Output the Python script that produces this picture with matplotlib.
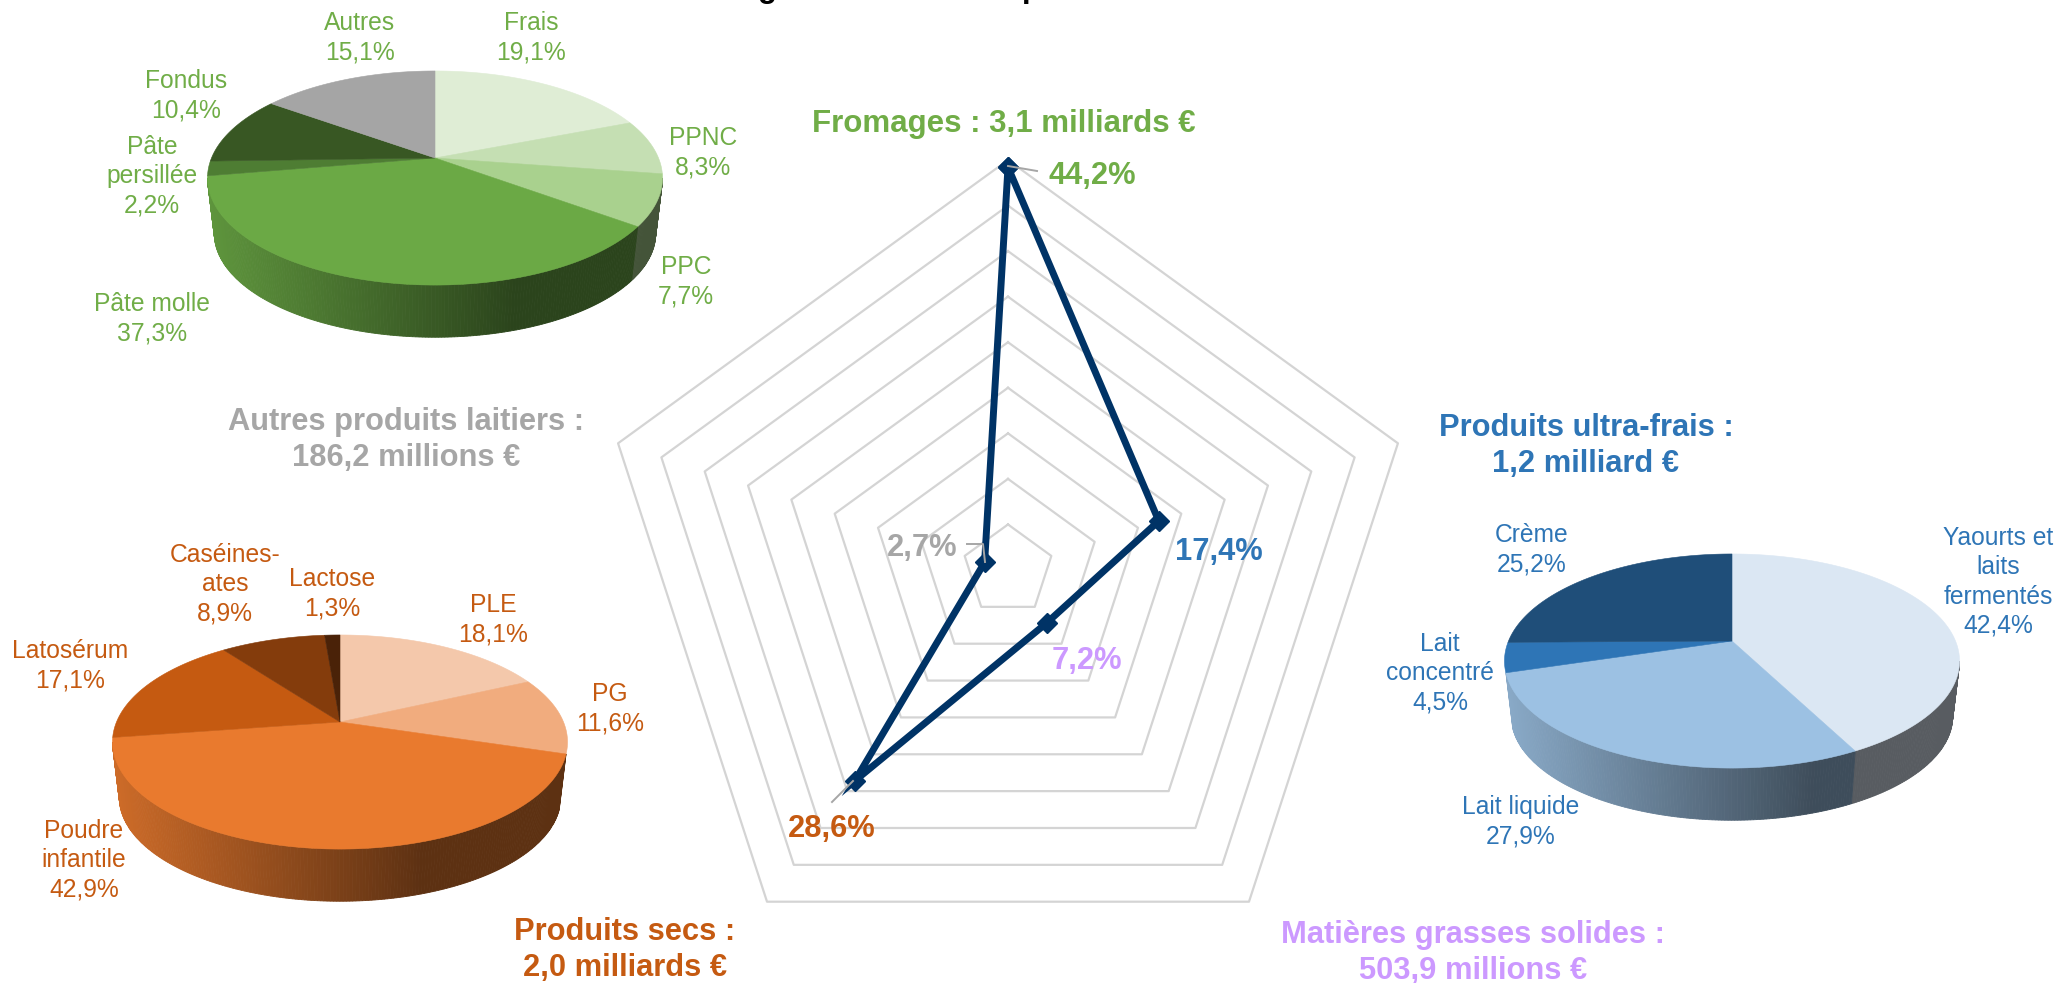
import numpy as np
import matplotlib.pyplot as plt

W = 2060
H = 983

# radar
radar_names = ['Fromages', 'Produits ultra-frais', 'Matières grasses solides', 'Produits secs', 'Autres produits laitiers']
radar_shares = [44.2, 17.4, 7.2, 28.6, 2.7]
radar_rings = [5, 10, 15, 20, 25, 30, 35, 40, 45]
radar_labels = ['44,2%', '17,4%', '7,2%', '28,6%', '2,7%']
radar_titles = ['Fromages : 3,1 milliards €', 'Produits ultra-frais :\n1,2 milliard €',
                'Matières grasses solides :\n503,9 millions €', 'Produits secs :\n2,0 milliards €',
                'Autres produits laitiers :\n186,2 millions €']

# pies, clockwise from the top
cheese_labels = ['Frais', 'PPNC', 'PPC', 'Pâte molle', 'Pâte\npersillée', 'Fondus', 'Autres']
cheese_values = [19.1, 8.3, 7.7, 37.3, 2.2, 10.4, 15.1]
cheese_text = ['19,1%', '8,3%', '7,7%', '37,3%', '2,2%', '10,4%', '15,1%']
cheese_colors = ['#DFEDD5', '#C5DFB3', '#A9D18E', '#6BA945', '#4E7D33', '#385723', '#A5A5A5']

dry_labels = ['PLE', 'PG', 'Poudre\ninfantile', 'Latosérum', 'Caséines-\nates', 'Lactose']
dry_values = [18.1, 11.6, 42.9, 17.1, 8.9, 1.3]
dry_text = ['18,1%', '11,6%', '42,9%', '17,1%', '8,9%', '1,3%']
dry_colors = ['#F4C8AB', '#F1AC7E', '#E97A2E', '#C55A11', '#843C0C', '#4A2208']

fresh_labels = ['Yaourts et\nlaits\nfermentés', 'Lait liquide', 'Lait\nconcentré', 'Crème']
fresh_values = [42.4, 27.9, 4.5, 25.2]
fresh_text = ['42,4%', '27,9%', '4,5%', '25,2%']
fresh_colors = ['#DBE7F3', '#9CC1E3', '#2E75B6', '#1F4E79']

GREEN = '#70AD47'
BLUE = '#2E75B6'
ORANGE = '#C55A11'
GREY = '#A6A6A6'
PURPLE = '#CC99FF'
NAVY = '#003366'

plt.rcParams['font.family'] = ['Liberation Sans', 'DejaVu Sans']


def put(x, y, s, color, size=17.7, bold=False, spacing=1.28):
    fig.text(x/W, 1-y/H, s, color=color, fontsize=size, ha='center', va='center',
             multialignment='center', linespacing=spacing, fontweight='bold' if bold else 'normal')


def project(t, scale=1.0):
    # circle seen in perspective, the centre sits above the middle of the ellipse
    k = 0.187
    d = 1 + k*np.cos(t)
    return scale*223.5*np.sin(t)/d, scale*103.3*np.cos(t)/d


def draw_pie(cx, cy, values, colors):
    ax = fig.add_axes([(cx-240)/W, 1-(cy+190)/H, 480/W, 290/H])
    ax.set_xlim(-240, 240)
    ax.set_ylim(-190, 100)
    ax.axis('off')
    ends = np.cumsum(values)/np.sum(values)*2*np.pi
    starts = np.r_[0, ends[:-1]]
    # side wall, strips shaded from left to right
    for a, b, c in zip(starts, ends, colors):
        base = np.array(plt.matplotlib.colors.to_rgb(c))
        lo = max(a, np.pi/2+0.188)
        hi = min(b, 3*np.pi/2-0.188)
        # a sliver at the widest point does not show
        if hi-lo < 0.12:
            continue
        n = max(int((hi-lo)/0.012), 1)
        ts = np.linspace(lo, hi, n+1)
        for t0, t1 in zip(ts[:-1], ts[1:]):
            x0, y0 = project(t0)
            x1, y1 = project(t1)
            x2, y2 = project(t1, 0.97)
            x3, y3 = project(t0, 0.97)
            pos = ((x0+x1)/2+228)/456
            f = np.interp(pos, [0, 0.68, 1], [0.88, 0.40, 0.40])
            col = base*f
            ax.fill([x0, x1, x2, x3], [y0, y1, y2-56, y3-56], color=col, lw=0.6, zorder=2)
    # top face
    for a, b, c in zip(starts, ends, colors):
        ts = np.linspace(a, b, max(int((b-a)/0.01), 2))
        x, y = project(ts)
        ax.fill(np.r_[0, x], np.r_[0, y], color=c, lw=0.4, zorder=3)


fig = plt.figure(figsize=(W/100, H/100), dpi=100)

# radar, centre 1008,570, outer radius 410
rad = fig.add_axes([(1008-410)/W, 1-(570+410)/H, 820/W, 820/H], polar=True)
rad.set_theta_zero_location('N')
rad.set_theta_direction(-1)
rad.set_ylim(0, 45)
rad.axis('off')
angles = np.deg2rad(np.arange(len(radar_shares))*72)
closed = np.r_[angles, angles[0]]
for r in radar_rings:
    rad.plot(closed, [r]*len(closed), color='#D4D4D4', lw=1.6, clip_on=False, zorder=1)
rad.plot(closed, np.r_[radar_shares, radar_shares[0]], color=NAVY, lw=5, marker='D', ms=10.5,
         clip_on=False, zorder=3, solid_joinstyle='miter')

# leader lines
lead = fig.add_axes([0, 0, 1, 1])
lead.set_xlim(0, W)
lead.set_ylim(H, 0)
lead.axis('off')
lead.patch.set_alpha(0)
lead.plot([1008, 1037], [166, 171], color=GREY, lw=1.4, zorder=5)
lead.plot([967, 983, 985], [544, 544, 562], color=GREY, lw=1.4, zorder=5)
lead.plot([853, 832], [781, 802], color=GREY, lw=1.4, zorder=5)

draw_pie(435, 158, cheese_values, cheese_colors)
draw_pie(340, 722, dry_values, dry_colors)
draw_pie(1732, 641, fresh_values, fresh_colors)

# radar texts
radar_colors = [GREEN, BLUE, PURPLE, ORANGE, GREY]
title_pos = [(1004, 124), (1586, 446), (1473, 953), (625, 950), (406, 440)]
title_sizes = [22.5, 22.2, 22.2, 22.2, 22.2]
value_pos = [(1092, 176), (1219, 552), (1087, 661), (832, 829), (922, 548)]
for s, p, c, z in zip(radar_titles, title_pos, radar_colors, title_sizes):
    put(p[0], p[1], s, c, z, True, 1.24)
for s, p, c in zip(radar_labels, value_pos, radar_colors):
    put(p[0], p[1], s, c, 22.2, True)

# pie labels
cheese_pos = [(531, 38), (703, 153), (686, 282), (152, 319), (152, 176), (186, 96), (360, 38)]
dry_pos = [(493, 620), (610, 709), (84, 860), (70, 666), (225, 584), (332, 594)]
fresh_pos = [(1998, 582), (1521, 822), (1440, 673), (1532, 550)]
for labels, text, pos, col in [(cheese_labels, cheese_text, cheese_pos, GREEN),
                               (dry_labels, dry_text, dry_pos, ORANGE),
                               (fresh_labels, fresh_text, fresh_pos, BLUE)]:
    for a, b, p in zip(labels, text, pos):
        put(p[0], p[1], a + '\n' + b, col)

# only the descenders of the cropped title are left in the picture
fig.text(767/W, 1+3/H, 'g', color='black', fontsize=22.5, fontweight='bold', ha='center', va='baseline')
fig.text(1032/W, 1+3/H, 'p', color='black', fontsize=22.5, fontweight='bold', ha='center', va='baseline')

fig.savefig('out.png', dpi=100)
